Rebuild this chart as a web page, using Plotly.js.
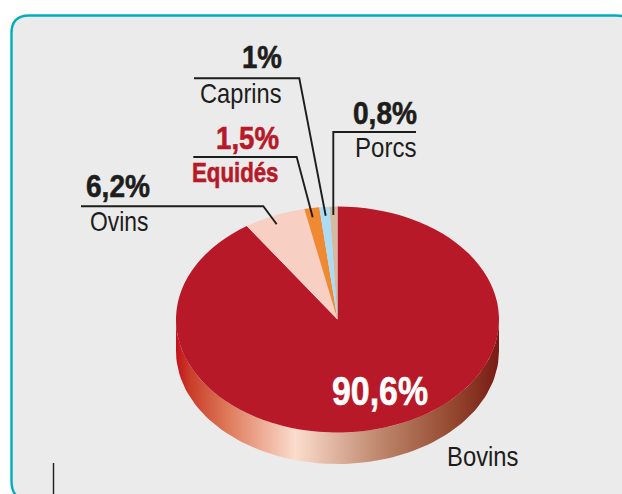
<!DOCTYPE html>
<html>
<head>
<meta charset="utf-8">
<script src="https://cdn.plot.ly/plotly-3.0.1.min.js"></script>
<style>html,body{margin:0;padding:0;background:#fff;overflow:hidden}#c{width:622px;height:494px}</style>
</head>
<body>
<div id="c"></div>
<script>
const categories = ['Bovins','Ovins','Equidés','Caprins','Porcs'];
const shares = [90.6,6.2,1.5,1,0.8];
const sliceColors = ['#b71928','#f8cfc3','#f08a32','#acdcf5','#d2bba0'];
const rimStops = [[0,'#c4101c'],[0.04,'#c83a28'],[0.15,'#dd7555'],[0.37,'#fbdccd'],[0.62,'#c08a70'],[0.85,'#954a30'],[1,'#7a1a15']];

const FONT = '"Liberation Sans",Arial,sans-serif';
const INK = '#1d1d1b', RED = '#b71928';
const CX = 337.5, CY = 319.5, RX = 161.5, RY = 113, DEPTH = 32;

const rimX = [], rimY = [];
for (let d = -90; d <= 90; d += 2) { const t = d*Math.PI/180; rimX.push(CX+RX*Math.sin(t)); rimY.push(CY+RY*Math.cos(t)); }
for (let d = 90; d >= -90; d -= 2) { const t = d*Math.PI/180; rimX.push(CX+RX*Math.sin(t)); rimY.push(CY+DEPTH-0.5+RY*Math.cos(t)); }

const fmt = v => String(v).replace('.',',') + '%';
const W = 622, H = 494;

// left and right edges that each label occupies (the original face is condensed)
const fits = [];
function label(text, left, right, y, size, color, bold) {
  fits.push([left, right, bold]);
  return {xref:'x', yref:'y', x:left, y:y, xanchor:'left', yanchor:'middle', showarrow:false, borderpad:0,
    text: bold ? '<b>'+text+'</b>' : text, font:{family:FONT, size:size, color:color}};
}
function leader(pts) {
  return {type:'path', layer:'above', xref:'x', yref:'y',
    path:'M'+pts.map(p=>p.join(',')).join('L'), line:{color:INK, width:1.9}, fillcolor:'rgba(0,0,0,0)'};
}

const data = [
  {type:'scatter', mode:'lines', x:rimX, y:rimY, fill:'toself', line:{width:0},
   fillgradient:{type:'horizontal', colorscale:rimStops}, hoverinfo:'skip', showlegend:false},
  {type:'pie', labels:categories, values:shares, sort:false, direction:'clockwise', rotation:0,
   textinfo:'none', hoverinfo:'label+percent', showlegend:false,
   marker:{colors:sliceColors, line:{width:0}},
   domain:{x:[(CX-RX)/W,(CX+RX)/W], y:[1-(CY+RX)/H,1-(CY-RX)/H]}}
];

const layout = {
  width:W, height:H, margin:{l:0,r:0,t:0,b:0}, paper_bgcolor:'#ffffff', plot_bgcolor:'#ffffff', showlegend:false,
  xaxis:{range:[0,W], visible:false, fixedrange:true},
  yaxis:{range:[H,0], visible:false, fixedrange:true},
  shapes:[
    {type:'path', layer:'below', xref:'x', yref:'y',
     path:'M11.5,33 Q11.5,15.5 29,15.5 L616,15.5 Q636,15.5 636,33 L636,481 Q636,500 616,500 L29,500 Q11.5,500 11.5,481 Z',
     fillcolor:'#ebebeb', line:{color:'#00aebd', width:2.4}},
    leader([[194,78.3],[299.3,78.3],[325.7,215.7]]),
    leader([[193.3,157],[296.7,157],[312.7,217.3]]),
    leader([[81,206.3],[263.3,206.3],[276.7,224.3]]),
    leader([[416,132],[333.3,132],[333.3,215]]),
    {type:'line', layer:'above', xref:'x', yref:'y', x0:53.5, x1:53.5, y0:463, y1:494, line:{color:INK, width:1.4}}
  ],
  annotations:[
    label(fmt(shares[3]), 241, 281, 57, 32, INK, true),
    label(categories[3], 198.5, 280, 94, 27, INK, false),
    label(fmt(shares[4]), 352, 416, 113, 32, INK, true),
    label(categories[4], 353.5, 415, 148, 27, INK, false),
    label(fmt(shares[2]), 215, 278, 138, 32, RED, true),
    label(categories[2], 190.5, 277, 173, 27, RED, true),
    label(fmt(shares[1]), 85, 149, 186, 32, INK, true),
    label(categories[1], 88.5, 147, 222, 27, INK, false),
    label(fmt(shares[0]), 331, 427, 391, 40, '#ffffff', true),
    label(categories[0], 445.5, 517, 457, 27, INK, false)
  ]
};

Plotly.newPlot('c', data, layout, {displayModeBar:false, staticPlot:true}).then(gd => {
  const k = RY/RX;
  gd.querySelectorAll('.pielayer').forEach(g =>
    g.setAttribute('transform', `translate(0 ${CY}) scale(1 ${k}) translate(0 ${-CY})`));
  // Condense each label to the width it takes in the original
  gd.querySelectorAll('.annotation').forEach((a, i) => {
    const t = a.querySelector('text');
    const b = t.getBBox();
    const s = (fits[i][1]-fits[i][0]) / b.width;
    t.setAttribute('transform', `translate(${b.x} 0) scale(${s} 1) translate(${-b.x} 0)`);
    if (fits[i][2]) { t.style.stroke = t.style.fill; t.style.strokeWidth = '0.6px'; }
  });
});
</script>
</body>
</html>
